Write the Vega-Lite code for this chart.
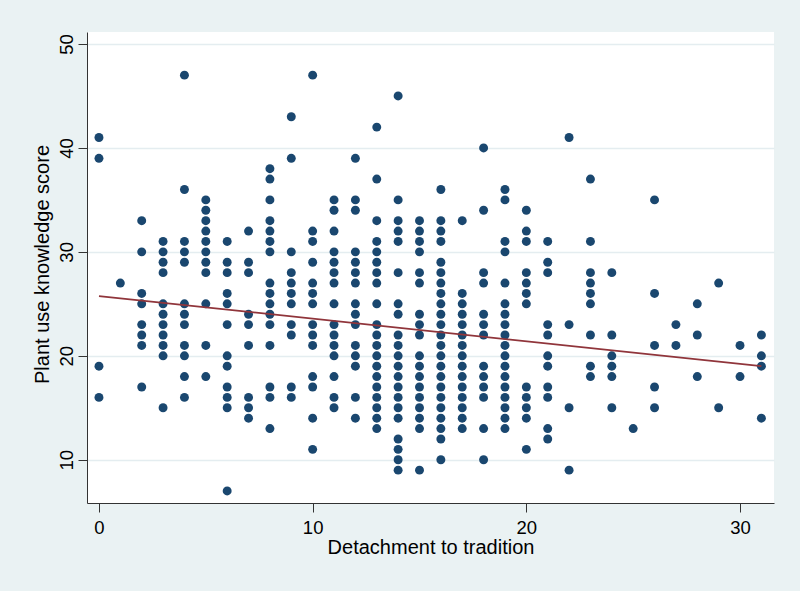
{
 "$schema": "https://vega.github.io/schema/vega-lite/v6.json",
 "width": 687,
 "height": 471,
 "autosize": {"type": "none"},
 "padding": {"left": 87, "top": 32, "right": 26, "bottom": 88},
 "background": "#EAF2F3",
 "config": {"view": {"fill": "white", "stroke": null}, "font": "Liberation Sans"},
 "datasets": {
  "points": [
   {"detachment":0,"score":41},{"detachment":0,"score":39},{"detachment":0,"score":19},{"detachment":0,"score":16},
   {"detachment":1,"score":27},
   {"detachment":2,"score":33},{"detachment":2,"score":30},{"detachment":2,"score":26},{"detachment":2,"score":25},{"detachment":2,"score":23},{"detachment":2,"score":22},{"detachment":2,"score":21},{"detachment":2,"score":17},
   {"detachment":3,"score":31},{"detachment":3,"score":30},{"detachment":3,"score":29},{"detachment":3,"score":28},{"detachment":3,"score":25},{"detachment":3,"score":24},{"detachment":3,"score":23},{"detachment":3,"score":22},{"detachment":3,"score":21},{"detachment":3,"score":20},{"detachment":3,"score":15},
   {"detachment":4,"score":47},{"detachment":4,"score":36},{"detachment":4,"score":31},{"detachment":4,"score":30},{"detachment":4,"score":29},{"detachment":4,"score":25},{"detachment":4,"score":24},{"detachment":4,"score":23},{"detachment":4,"score":21},{"detachment":4,"score":20},{"detachment":4,"score":18},{"detachment":4,"score":16},
   {"detachment":5,"score":35},{"detachment":5,"score":34},{"detachment":5,"score":33},{"detachment":5,"score":32},{"detachment":5,"score":31},{"detachment":5,"score":30},{"detachment":5,"score":29},{"detachment":5,"score":28},{"detachment":5,"score":25},{"detachment":5,"score":21},{"detachment":5,"score":18},
   {"detachment":6,"score":31},{"detachment":6,"score":29},{"detachment":6,"score":28},{"detachment":6,"score":26},{"detachment":6,"score":25},{"detachment":6,"score":23},{"detachment":6,"score":20},{"detachment":6,"score":19},{"detachment":6,"score":17},{"detachment":6,"score":16},{"detachment":6,"score":15},{"detachment":6,"score":7},
   {"detachment":7,"score":32},{"detachment":7,"score":29},{"detachment":7,"score":28},{"detachment":7,"score":24},{"detachment":7,"score":23},{"detachment":7,"score":21},{"detachment":7,"score":16},{"detachment":7,"score":15},{"detachment":7,"score":14},
   {"detachment":8,"score":38},{"detachment":8,"score":37},{"detachment":8,"score":35},{"detachment":8,"score":33},{"detachment":8,"score":32},{"detachment":8,"score":31},{"detachment":8,"score":30},{"detachment":8,"score":27},{"detachment":8,"score":26},{"detachment":8,"score":25},{"detachment":8,"score":24},{"detachment":8,"score":23},{"detachment":8,"score":21},{"detachment":8,"score":17},{"detachment":8,"score":16},{"detachment":8,"score":13},
   {"detachment":9,"score":43},{"detachment":9,"score":39},{"detachment":9,"score":30},{"detachment":9,"score":28},{"detachment":9,"score":27},{"detachment":9,"score":26},{"detachment":9,"score":25},{"detachment":9,"score":23},{"detachment":9,"score":22},{"detachment":9,"score":17},{"detachment":9,"score":16},
   {"detachment":10,"score":47},{"detachment":10,"score":32},{"detachment":10,"score":31},{"detachment":10,"score":29},{"detachment":10,"score":27},{"detachment":10,"score":26},{"detachment":10,"score":25},{"detachment":10,"score":23},{"detachment":10,"score":22},{"detachment":10,"score":21},{"detachment":10,"score":18},{"detachment":10,"score":17},{"detachment":10,"score":14},{"detachment":10,"score":11},
   {"detachment":11,"score":35},{"detachment":11,"score":34},{"detachment":11,"score":32},{"detachment":11,"score":30},{"detachment":11,"score":29},{"detachment":11,"score":28},{"detachment":11,"score":27},{"detachment":11,"score":25},{"detachment":11,"score":23},{"detachment":11,"score":22},{"detachment":11,"score":21},{"detachment":11,"score":20},{"detachment":11,"score":18},{"detachment":11,"score":16},{"detachment":11,"score":15},
   {"detachment":12,"score":39},{"detachment":12,"score":35},{"detachment":12,"score":34},{"detachment":12,"score":30},{"detachment":12,"score":29},{"detachment":12,"score":28},{"detachment":12,"score":27},{"detachment":12,"score":25},{"detachment":12,"score":24},{"detachment":12,"score":23},{"detachment":12,"score":21},{"detachment":12,"score":20},{"detachment":12,"score":19},{"detachment":12,"score":16},{"detachment":12,"score":14},
   {"detachment":13,"score":42},{"detachment":13,"score":37},{"detachment":13,"score":33},{"detachment":13,"score":31},{"detachment":13,"score":30},{"detachment":13,"score":29},{"detachment":13,"score":28},{"detachment":13,"score":27},{"detachment":13,"score":25},{"detachment":13,"score":23},{"detachment":13,"score":22},{"detachment":13,"score":21},{"detachment":13,"score":20},{"detachment":13,"score":19},{"detachment":13,"score":18},{"detachment":13,"score":17},{"detachment":13,"score":16},{"detachment":13,"score":15},{"detachment":13,"score":14},{"detachment":13,"score":13},
   {"detachment":14,"score":45},{"detachment":14,"score":35},{"detachment":14,"score":33},{"detachment":14,"score":32},{"detachment":14,"score":31},{"detachment":14,"score":28},{"detachment":14,"score":25},{"detachment":14,"score":24},{"detachment":14,"score":22},{"detachment":14,"score":21},{"detachment":14,"score":20},{"detachment":14,"score":19},{"detachment":14,"score":18},{"detachment":14,"score":17},{"detachment":14,"score":16},{"detachment":14,"score":15},{"detachment":14,"score":14},{"detachment":14,"score":12},{"detachment":14,"score":11},{"detachment":14,"score":10},{"detachment":14,"score":9},
   {"detachment":15,"score":33},{"detachment":15,"score":32},{"detachment":15,"score":31},{"detachment":15,"score":30},{"detachment":15,"score":28},{"detachment":15,"score":27},{"detachment":15,"score":24},{"detachment":15,"score":23},{"detachment":15,"score":22},{"detachment":15,"score":20},{"detachment":15,"score":19},{"detachment":15,"score":18},{"detachment":15,"score":17},{"detachment":15,"score":16},{"detachment":15,"score":15},{"detachment":15,"score":14},{"detachment":15,"score":13},{"detachment":15,"score":9},
   {"detachment":16,"score":36},{"detachment":16,"score":33},{"detachment":16,"score":32},{"detachment":16,"score":31},{"detachment":16,"score":29},{"detachment":16,"score":28},{"detachment":16,"score":27},{"detachment":16,"score":26},{"detachment":16,"score":25},{"detachment":16,"score":24},{"detachment":16,"score":23},{"detachment":16,"score":22},{"detachment":16,"score":21},{"detachment":16,"score":20},{"detachment":16,"score":19},{"detachment":16,"score":18},{"detachment":16,"score":17},{"detachment":16,"score":16},{"detachment":16,"score":15},{"detachment":16,"score":14},{"detachment":16,"score":13},{"detachment":16,"score":12},{"detachment":16,"score":10},
   {"detachment":17,"score":33},{"detachment":17,"score":26},{"detachment":17,"score":25},{"detachment":17,"score":24},{"detachment":17,"score":23},{"detachment":17,"score":22},{"detachment":17,"score":21},{"detachment":17,"score":20},{"detachment":17,"score":19},{"detachment":17,"score":18},{"detachment":17,"score":17},{"detachment":17,"score":16},{"detachment":17,"score":15},{"detachment":17,"score":14},{"detachment":17,"score":13},
   {"detachment":18,"score":40},{"detachment":18,"score":34},{"detachment":18,"score":28},{"detachment":18,"score":27},{"detachment":18,"score":24},{"detachment":18,"score":23},{"detachment":18,"score":22},{"detachment":18,"score":19},{"detachment":18,"score":18},{"detachment":18,"score":17},{"detachment":18,"score":16},{"detachment":18,"score":13},{"detachment":18,"score":10},
   {"detachment":19,"score":36},{"detachment":19,"score":35},{"detachment":19,"score":31},{"detachment":19,"score":30},{"detachment":19,"score":27},{"detachment":19,"score":25},{"detachment":19,"score":24},{"detachment":19,"score":23},{"detachment":19,"score":22},{"detachment":19,"score":21},{"detachment":19,"score":20},{"detachment":19,"score":19},{"detachment":19,"score":18},{"detachment":19,"score":17},{"detachment":19,"score":16},{"detachment":19,"score":15},{"detachment":19,"score":14},{"detachment":19,"score":13},
   {"detachment":20,"score":34},{"detachment":20,"score":32},{"detachment":20,"score":31},{"detachment":20,"score":28},{"detachment":20,"score":27},{"detachment":20,"score":26},{"detachment":20,"score":25},{"detachment":20,"score":17},{"detachment":20,"score":16},{"detachment":20,"score":15},{"detachment":20,"score":14},{"detachment":20,"score":11},
   {"detachment":21,"score":31},{"detachment":21,"score":29},{"detachment":21,"score":28},{"detachment":21,"score":23},{"detachment":21,"score":22},{"detachment":21,"score":20},{"detachment":21,"score":19},{"detachment":21,"score":17},{"detachment":21,"score":16},{"detachment":21,"score":13},{"detachment":21,"score":12},
   {"detachment":22,"score":41},{"detachment":22,"score":23},{"detachment":22,"score":15},{"detachment":22,"score":9},
   {"detachment":23,"score":37},{"detachment":23,"score":31},{"detachment":23,"score":28},{"detachment":23,"score":27},{"detachment":23,"score":26},{"detachment":23,"score":25},{"detachment":23,"score":22},{"detachment":23,"score":19},{"detachment":23,"score":18},
   {"detachment":24,"score":28},{"detachment":24,"score":22},{"detachment":24,"score":20},{"detachment":24,"score":19},{"detachment":24,"score":18},{"detachment":24,"score":15},
   {"detachment":25,"score":13},
   {"detachment":26,"score":35},{"detachment":26,"score":26},{"detachment":26,"score":21},{"detachment":26,"score":17},{"detachment":26,"score":15},
   {"detachment":27,"score":23},{"detachment":27,"score":21},
   {"detachment":28,"score":25},{"detachment":28,"score":22},{"detachment":28,"score":18},
   {"detachment":29,"score":27},{"detachment":29,"score":15},
   {"detachment":30,"score":21},{"detachment":30,"score":18},
   {"detachment":31,"score":22},{"detachment":31,"score":20},{"detachment":31,"score":19},{"detachment":31,"score":14}
  ],
  "fit": [
   {"detachment":0,"score":25.75},
   {"detachment":31,"score":19.0}
  ]
 },
 "layer": [
  {
   "data": {"name": "points"},
   "mark": {"type": "circle", "size": 80, "color": "#1a476f", "opacity": 1},
   "encoding": {
    "x": {
     "field": "detachment", "type": "quantitative",
     "scale": {"domain": [-0.56, 31.59], "nice": false, "zero": false},
     "axis": {
      "values": [0, 10, 20, 30], "title": "Detachment to tradition", "grid": false,
      "domainColor": "#333333", "tickColor": "#333333", "tickSize": 9,
      "labelFontSize": 18.5, "labelColor": "black", "labelBaseline": "alphabetic", "labelPadding": 21,
      "labelFlush": false, "labelOverlap": false,
      "titleFontSize": 20, "titleFontWeight": "normal", "titleColor": "black",
      "titleBaseline": "alphabetic", "titleY": 50
     }
    },
    "y": {
     "field": "score", "type": "quantitative",
     "scale": {"domain": [5.84, 51.15], "nice": false, "zero": false},
     "axis": {
      "values": [10, 20, 30, 40, 50], "title": "Plant use knowledge score", "grid": true,
      "gridColor": "#E4EDF0", "gridWidth": 1.6,
      "domainColor": "#333333", "tickColor": "#333333", "tickSize": 9,
      "labelAngle": -90, "labelAlign": "center", "labelBaseline": "alphabetic", "labelPadding": 6,
      "labelFontSize": 18.5, "labelColor": "black", "labelOverlap": false, "labelFlush": false,
      "titleFontSize": 20, "titleFontWeight": "normal", "titleColor": "black",
      "titleAngle": 270, "titleBaseline": "alphabetic", "titleAlign": "center", "titleX": -39, "titleY": 232
     }
    }
   }
  },
  {
   "data": {"name": "fit"},
   "mark": {"type": "line", "color": "#90353b", "strokeWidth": 1.7},
   "encoding": {
    "x": {"field": "detachment", "type": "quantitative"},
    "y": {"field": "score", "type": "quantitative"}
   }
  }
 ]
}
